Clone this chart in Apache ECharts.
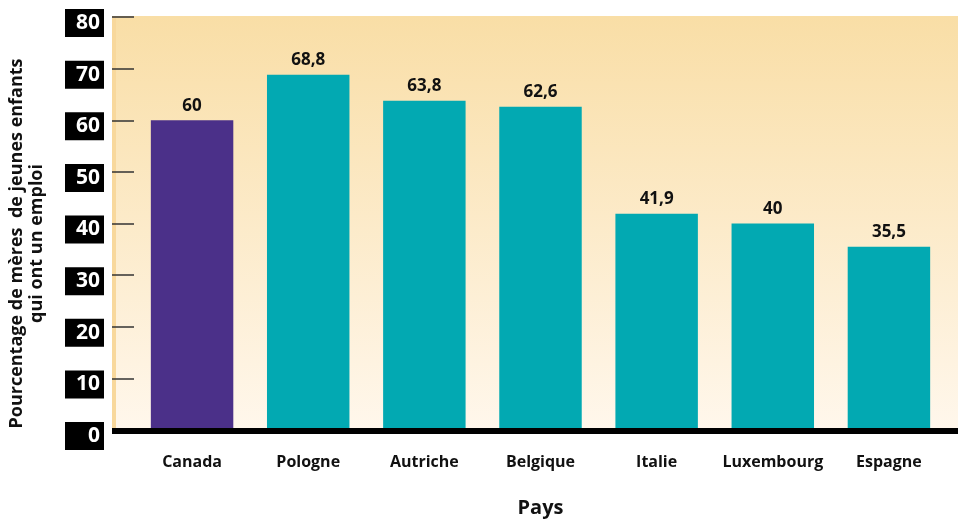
<!DOCTYPE html>
<html>
<head>
<meta charset="utf-8">
<script src="https://cdn.jsdelivr.net/npm/echarts@6/dist/echarts.min.js"></script>
<style>
  html, body { margin: 0; padding: 0; background: #fff; }
  #main { width: 958px; height: 521px; }
</style>
</head>
<body>
<div id="main"></div>
<script>
// données
var pays = ['Canada', 'Pologne', 'Autriche', 'Belgique', 'Italie', 'Luxembourg', 'Espagne'];
var valeurs = [60, 68.8, 63.8, 62.6, 41.9, 40, 35.5];
var couleurs = ['#4b3089', '#02a9b2', '#02a9b2', '#02a9b2', '#02a9b2', '#02a9b2', '#02a9b2'];

var police = '"Open Sans", sans-serif';

var myChart = echarts.init(document.getElementById('main'));

var option = {
  backgroundColor: '#fff',
  animation: false,
  grid: { left: 134, right: 11, top: 17, bottom: 91, outerBoundsMode: 'none' },
  graphic: [
    { // fond dégradé
      type: 'rect', z: -10, silent: true,
      shape: { x: 112, y: 16, width: 846, height: 414 },
      style: {
        fill: new echarts.graphic.LinearGradient(0, 0, 0, 1, [
          { offset: 0, color: '#f9dea6' },
          { offset: 1, color: '#fff7ec' }
        ])
      }
    },
    { // bande à gauche
      type: 'rect', z: -9, silent: true,
      shape: { x: 112, y: 16, width: 4, height: 414 },
      style: { fill: '#f8d89c' }
    },
    { // axe horizontal
      type: 'rect', z: 10, silent: true,
      shape: { x: 112, y: 428, width: 846, height: 6 },
      style: { fill: '#000' }
    }
  ],
  xAxis: {
    type: 'category',
    data: pays,
    name: 'Pays',
    nameLocation: 'middle',
    nameGap: 68,
    nameTextStyle: { fontFamily: police, fontWeight: 'bold', fontSize: 20, color: '#111' },
    axisLine: { show: false },
    axisTick: { show: false },
    axisLabel: { interval: 0, margin: 24, fontFamily: police, fontWeight: 'bold', fontSize: 16, color: '#111' }
  },
  yAxis: {
    type: 'value',
    min: 0, max: 80, interval: 10,
    name: 'Pourcentage de mères  de jeunes enfants\nqui ont un emploi',
    nameLocation: 'middle',
    nameGap: 87,
    nameTextStyle: {
      fontFamily: police, fontWeight: 'bold', fontSize: 18, color: '#111', lineHeight: 20,
      padding: [0, 40, 0, 0]
    },
    splitLine: { show: false },
    axisLine: { show: false },
    axisTick: { show: true, length: 22, lineStyle: { color: '#333', width: 1.5 } },
    axisLabel: {
      margin: 30,
      align: 'right',
      verticalAlign: 'middle',
      formatter: function (v) { return '{gap|}\n{box|' + v + '}'; },
      rich: {
        gap: { height: 12, lineHeight: 12 },
        box: {
          fontFamily: police, fontWeight: 'bold', fontSize: 21, color: '#fff',
          backgroundColor: '#000',
          width: 31, height: 28, lineHeight: 28,
          align: 'right',
          padding: [0, 4, 0, 4]
        }
      }
    }
  },
  series: [{
    type: 'bar',
    data: valeurs.map(function (v, i) {
      return { value: v, itemStyle: { color: couleurs[i] } };
    }),
    barCategoryGap: '29%',
    label: {
      show: true, position: 'top', distance: 6,
      fontFamily: police, fontWeight: 'bold', fontSize: 17, color: '#111',
      formatter: function (p) { return String(p.value).replace('.', ','); }
    }
  }]
};

myChart.setOption(option);
</script>
</body>
</html>
